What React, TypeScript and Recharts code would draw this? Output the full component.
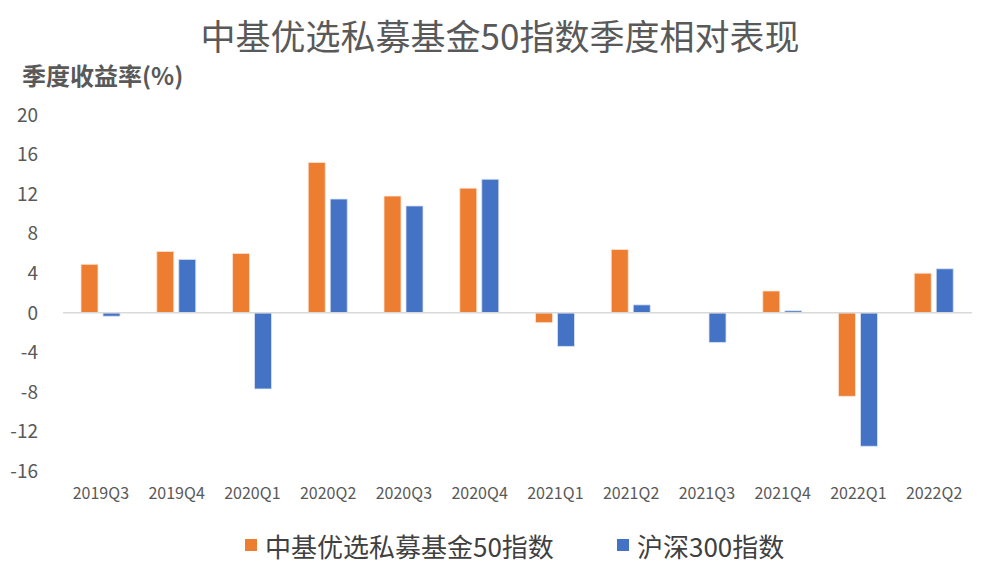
import { BarChart, Bar, XAxis, YAxis, ReferenceLine } from "recharts";

const quarters = [
  "2019Q3", "2019Q4", "2020Q1", "2020Q2", "2020Q3", "2020Q4",
  "2021Q1", "2021Q2", "2021Q3", "2021Q4", "2022Q1", "2022Q2",
];
const privateFund50 = [4.9, 6.2, 6.0, 15.2, 11.8, 12.6, -1.0, 6.4, 0, 2.2, -8.45, 4.0];
const csi300 = [-0.35, 5.4, -7.7, 11.5, 10.8, 13.5, -3.4, 0.8, -3.0, 0.2, -13.5, 4.45];
const yTicks = [-16, -12, -8, -4, 0, 4, 8, 12, 16, 20];

const FONT = "'Noto Sans CJK SC', 'Noto Sans', sans-serif";

const series = [
  { key: "fund", name: "中基优选私募基金50指数", color: "#ED7D31", edge: "#fbe5d6", left: 245 },
  { key: "hs300", name: "沪深300指数", color: "#4472C4", edge: "#dae3f3", left: 617 },
];

export default function App() {
  const data = quarters.map((q, i) => ({
    quarter: q,
    fund: privateFund50[i],
    hs300: csi300[i],
  }));

  return (
    <div style={{ position: "absolute", left: 0, top: 0, width: 1000, height: 573, background: "#fff", fontFamily: FONT }}>
      <div
        style={{
          position: "absolute",
          top: 10,
          left: 0,
          width: 1000,
          textAlign: "center",
          fontSize: 35,
          color: "#595959",
          lineHeight: "50px",
        }}
      >
        中基优选私募基金50指数季度相对表现
      </div>
      <div
        style={{
          position: "absolute",
          top: 58,
          left: 22,
          fontSize: 24,
          fontWeight: "bold",
          color: "#595959",
          lineHeight: "34px",
        }}
      >
        季度收益率(%)
      </div>
      <BarChart
        width={1000}
        height={573}
        data={data}
        margin={{ top: 115, right: 28, bottom: 72, left: 0 }}
        barGap={5}
        barSize={17}
      >
        <XAxis
          dataKey="quarter"
          height={30}
          axisLine={false}
          tickLine={false}
          tickSize={0}
          tickMargin={17}
          interval={0}
          tick={{ fill: "#595959", fontSize: 16, fontFamily: FONT }}
        />
        <YAxis
          width={63}
          domain={[-16, 20]}
          ticks={yTicks}
          axisLine={false}
          tickLine={false}
          tickSize={0}
          tickMargin={25}
          tick={{ fill: "#595959", fontSize: 19, fontFamily: FONT }}
        />
        <ReferenceLine y={0} stroke="#d9d9d9" strokeWidth={1.5} />
        {series.map((s) => (
          <Bar
            key={s.key}
            dataKey={s.key}
            name={s.name}
            fill={s.color}
            stroke={s.edge}
            strokeWidth={0.8}
            isAnimationActive={false}
          />
        ))}
      </BarChart>
      {series.map((s) => (
        <div
          key={s.key}
          style={{
            position: "absolute",
            left: s.left,
            top: 528,
            height: 34,
            display: "flex",
            alignItems: "center",
            fontSize: 26,
            color: "#404040",
            whiteSpace: "nowrap",
          }}
        >
          <span style={{ display: "inline-block", width: 12, height: 12, background: s.color, marginRight: 8 }} />
          {s.name}
        </div>
      ))}
    </div>
  );
}
